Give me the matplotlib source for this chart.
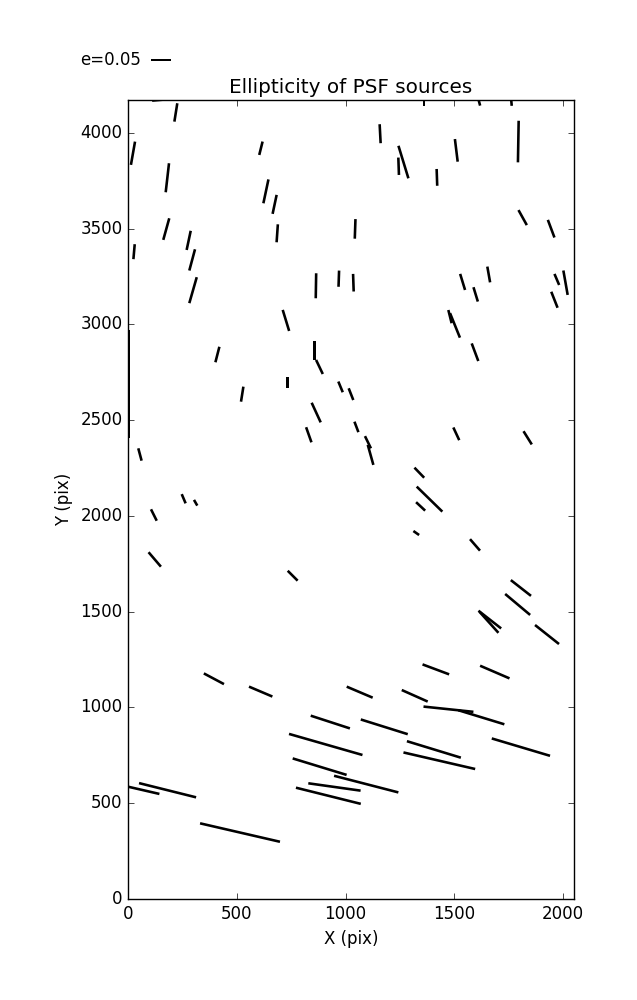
import numpy as np
import matplotlib
matplotlib.use("Agg")
import matplotlib.pyplot as plt

# source positions (pix), ellipticity and position angle (deg, from +x)
x_pix = [143, 220, 23, 181, 611, 634, 674, 686, 1044, 176,
         279, 28, 295, 299, 864, 969, 1036, 1361, 1609, 1761,
         1159, 1266, 1244, 1509, 1420, 1794, 1814, 1945, 1538, 1598,
         1658, 1971, 2011, 1960, 726, 411, 857, 880, 733, 525,
         977, 1025, 865, 831, 4.6, 55, 256, 311, 1050, 1480,
         1503, 1595, 1103, 1115, 1509, 1837, 1339, 1386, 1345, 119,
         123, 757, 395, 610, 1065, 1325, 1595, 1806, 1791, 1663,
         1659, 1926, 1415, 1686, 1318, 930, 909, 881, 1095, 949,
         921, 63, 182, 515, 1473, 1624, 1178, 1806, 1406, 1431]
y_pix = [4172, 4107, 3894, 3766, 3920, 3695, 3627, 3476, 3499, 3498,
         3439, 3380, 3337, 3179, 3202, 3239, 3218, 4188, 4183, 4178,
         3996, 3848, 3826, 3909, 3768, 3955, 3558, 3500, 3222, 3157,
         3261, 3235, 3218, 3129, 3021, 2843, 2863, 2778, 2697, 2636,
         2674, 2636, 2540, 2424, 2689, 2321, 2090, 2069, 2465, 3041,
         2995, 2855, 2385, 2319, 2429, 2408, 2226, 2088, 2050, 2005,
         1773, 1688, 1150, 1083, 1080, 1911, 1849, 1624, 1538, 1459,
         1445, 1381, 1199, 1185, 1061, 924, 807, 691, 600, 585,
         539, 570, 568, 347, 991, 949, 899, 793, 781, 722]
ellip = [0.035, 0.0465, 0.059, 0.073, 0.0345, 0.061, 0.0485, 0.045, 0.049, 0.056,
         0.049, 0.0375, 0.055, 0.0675, 0.0625, 0.0405, 0.044, 0.045, 0.04, 0.035,
         0.0475, 0.085, 0.0435, 0.057, 0.042, 0.104, 0.043, 0.047, 0.042, 0.0375,
         0.04, 0.03, 0.062, 0.043, 0.055, 0.040, 0.046, 0.039, 0.026, 0.038,
         0.029, 0.0315, 0.054, 0.040, 0.27, 0.032, 0.025, 0.0165, 0.028, 0.034,
         0.066, 0.047, 0.034, 0.052, 0.035, 0.039, 0.035, 0.0895, 0.031, 0.032,
         0.0475, 0.035, 0.057, 0.0635, 0.0705, 0.0175, 0.038, 0.064, 0.0815, 0.072,
         0.071, 0.0765, 0.071, 0.080, 0.071, 0.103, 0.191, 0.141, 0.166, 0.132,
         0.167, 0.091, 0.147, 0.205, 0.1255, 0.1205, 0.123, 0.152, 0.141, 0.184]
theta = [5, 81, 80, 83.5, 76, 78, 78, 86, 88, 74.5,
         78, 85, 75, 74, 89, 88, 92, 90, 105, 95,
         93, 107, 92, 97, 92, 89, 119, 110.5, 107, 107,
         100, 113, 100, 111.5, 107, 75.6, 90, 115.5, 90, 81,
         112.5, 111.5, 114.7, 109.5, 90, 105, 113, 120, 110.7, 104,
         112, 110.5, 116, 105.6, 115, 122, 134, 135.7, 137, 116.6,
         130.5, 135, 152, 157, 157, 145, 131, 142, 140, 142,
         132, 141.6, 159.5, 156.7, 156, 162, 164, 163, 165.5, 172,
         166, 167, 166, 167, 174, 163, 162.6, 163.4, 163, 167]

plt.style.use("classic")
fig = plt.figure(figsize=(6.37, 10), dpi=100, facecolor="white")
ax = fig.add_axes([0.2009, 0.101, 0.7002, 0.799])

th = np.radians(theta)
e = np.array(ellip)
q = ax.quiver(x_pix, y_pix, e * np.cos(th), e * np.sin(th),
              pivot="middle", headwidth=0, headlength=0, headaxislength=0,
              units="dots", scale_units="dots", scale=0.0025, width=2.6,
              color="black")
ax.quiverkey(q, 151 / 637, 0.94, 0.05, "e=0.05", labelpos="W",
             coordinates="figure", fontproperties={"size": 12})

ax.set_xlim(0, 2050)
ax.set_ylim(0, 4172)
ax.set_title("Ellipticity of PSF sources")
ax.set_xlabel("X (pix)")
ax.set_ylabel("Y (pix)")

fig.savefig("out.png", dpi=100, facecolor="white")
